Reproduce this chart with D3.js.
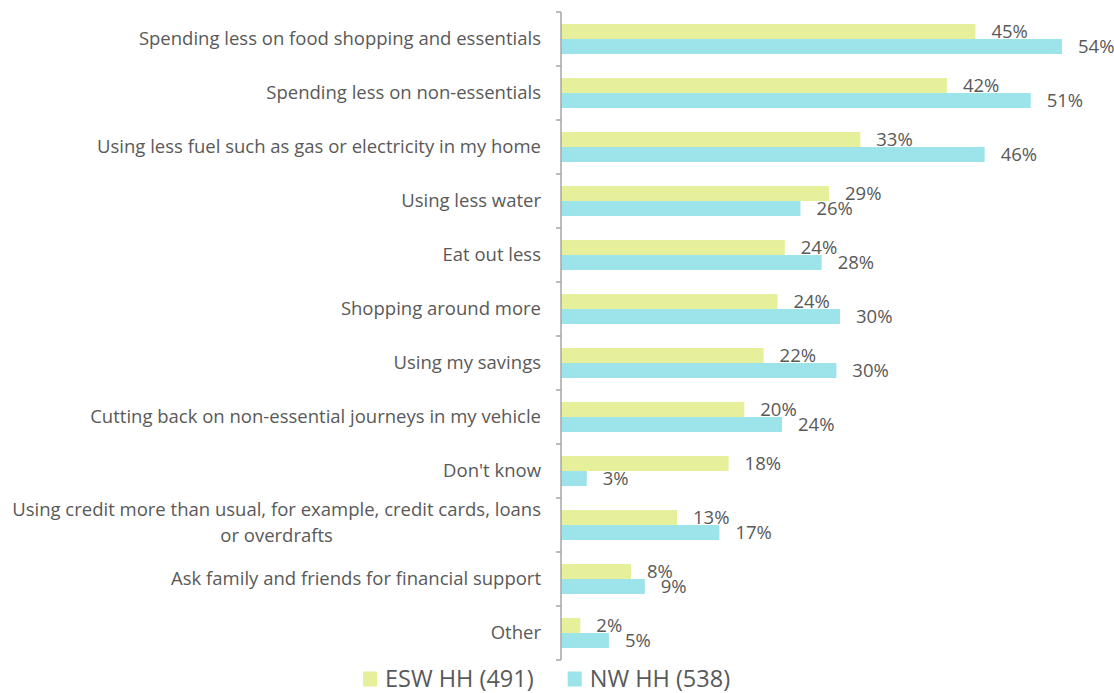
<!DOCTYPE html>
<html lang="en">
<head>
<meta charset="UTF-8">
<title>Household cost-saving actions</title>
<script src="https://d3js.org/d3.v7.min.js"></script>
<style>
    body { margin: 0; background: #fff; font-family: "Open Sans", Lato, sans-serif; }
    .cat, .val, .legend text { fill: #595959; }
</style>
</head>
<body>
<svg id="chart"></svg>
<script>
    // Data
    const categories = [
        "Spending less on food shopping and essentials",
        "Spending less on non-essentials",
        "Using less fuel such as gas or electricity in my home",
        "Using less water",
        "Eat out less",
        "Shopping around more",
        "Using my savings",
        "Cutting back on non-essential journeys in my vehicle",
        "Don't know",
        "Using credit more than usual, for example, credit cards, loans|or overdrafts",
        "Ask family and friends for financial support",
        "Other"
    ];
    const seriesNames = ["ESW HH (491)", "NW HH (538)"];
    const eswValues = [45.0, 41.9, 32.5, 29.1, 24.3, 23.5, 22.0, 19.9, 18.2, 12.6, 7.6, 2.1];
    const nwValues  = [54.4, 51.0, 46.0, 26.0, 28.3, 30.3, 29.9, 24.0, 2.8, 17.2, 9.1, 5.2];
    const colors = ["#e6f09a", "#9ce3ea"];

    const W = 1114, H = 693;
    const margin = { top: 12, right: 52, bottom: 33, left: 561 };
    const width = W - margin.left - margin.right,
          height = H - margin.top - margin.bottom;

    const rows = categories.map((c, i) => ({ name: c, values: [eswValues[i], nwValues[i]] }));

    const svg = d3.select("#chart").attr("width", W).attr("height", H);
    const g = svg.append("g").attr("transform", `translate(${margin.left},${margin.top})`);

    const y = d3.scaleBand()
        .domain(categories)
        .range([0, height])
        .paddingInner(24 / 54)
        .paddingOuter(12 / 54);

    const ySub = d3.scaleBand()
        .domain([0, 1])
        .range([0, y.bandwidth()]);

    const x = d3.scaleLinear()
        .domain([0, 54.4])
        .range([0, 501]);

    // bars
    const groups = g.selectAll(".row")
        .data(rows)
        .enter().append("g")
        .attr("class", "row")
        .attr("transform", d => `translate(0,${y(d.name)})`);

    groups.selectAll("rect")
        .data(d => d.values.map((v, k) => ({ v, k })))
        .enter().append("rect")
        .attr("x", 0)
        .attr("y", d => ySub(d.k))
        .attr("width", d => x(d.v))
        .attr("height", ySub.bandwidth())
        .attr("fill", d => colors[d.k]);

    groups.selectAll(".val")
        .data(d => d.values.map((v, k) => ({ v, k })))
        .enter().append("text")
        .attr("class", "val")
        .attr("x", d => x(d.v) + 16)
        .attr("y", d => ySub(d.k) + ySub.bandwidth() / 2)
        .attr("dy", "0.35em")
        .style("font-size", "18.5px")
        .text(d => d3.format(".0f")(d.v) + "%");

    // axis: vertical line with ticks at category boundaries
    const step = y.step();
    g.append("line")
        .attr("x1", 0).attr("x2", 0)
        .attr("y1", 0).attr("y2", height)
        .attr("stroke", "#a6a6a6").attr("stroke-width", 1.5);
    g.selectAll(".tick")
        .data(d3.range(categories.length + 1))
        .enter().append("line")
        .attr("class", "tick")
        .attr("x1", -5).attr("x2", 0)
        .attr("y1", i => i * step).attr("y2", i => i * step)
        .attr("stroke", "#a6a6a6").attr("stroke-width", 1.5);

    // category labels
    const labels = g.selectAll(".cat")
        .data(categories)
        .enter().append("text")
        .attr("class", "cat")
        .style("font-size", "18.5px");

    labels.each(function(d) {
        const lines = d.split("|");
        const t = d3.select(this);
        const cy = y(d) + y.bandwidth() / 2;
        if (lines.length === 1) {
            t.attr("x", -20).attr("y", cy).attr("text-anchor", "end").attr("dy", "0.35em").text(d);
        } else {
            t.attr("text-anchor", "middle");
            const first = t.append("tspan").attr("y", cy - 15).attr("dy", "0.35em").text(lines[0]);
            const w = first.node().getComputedTextLength();
            first.attr("x", -20 - w / 2);
            t.append("tspan").attr("x", -20 - w / 2).attr("y", cy + 11).attr("dy", "0.35em").text(lines[1]);
        }
    });

    // legend
    const legend = svg.append("g").attr("class", "legend")
        .attr("transform", `translate(363,${H - 14})`);
    let lx = 0;
    seriesNames.forEach((s, k) => {
        const item = legend.append("g").attr("transform", `translate(${lx},0)`);
        item.append("rect").attr("x", 0).attr("y", -7.5).attr("width", 14).attr("height", 15).attr("fill", colors[k]);
        const t = item.append("text").attr("x", 22).attr("dy", "0.35em")
            .style("font-size", "23.5px").text(s);
        lx += 22 + t.node().getComputedTextLength() + 34;
    });
</script>
</body>
</html>
